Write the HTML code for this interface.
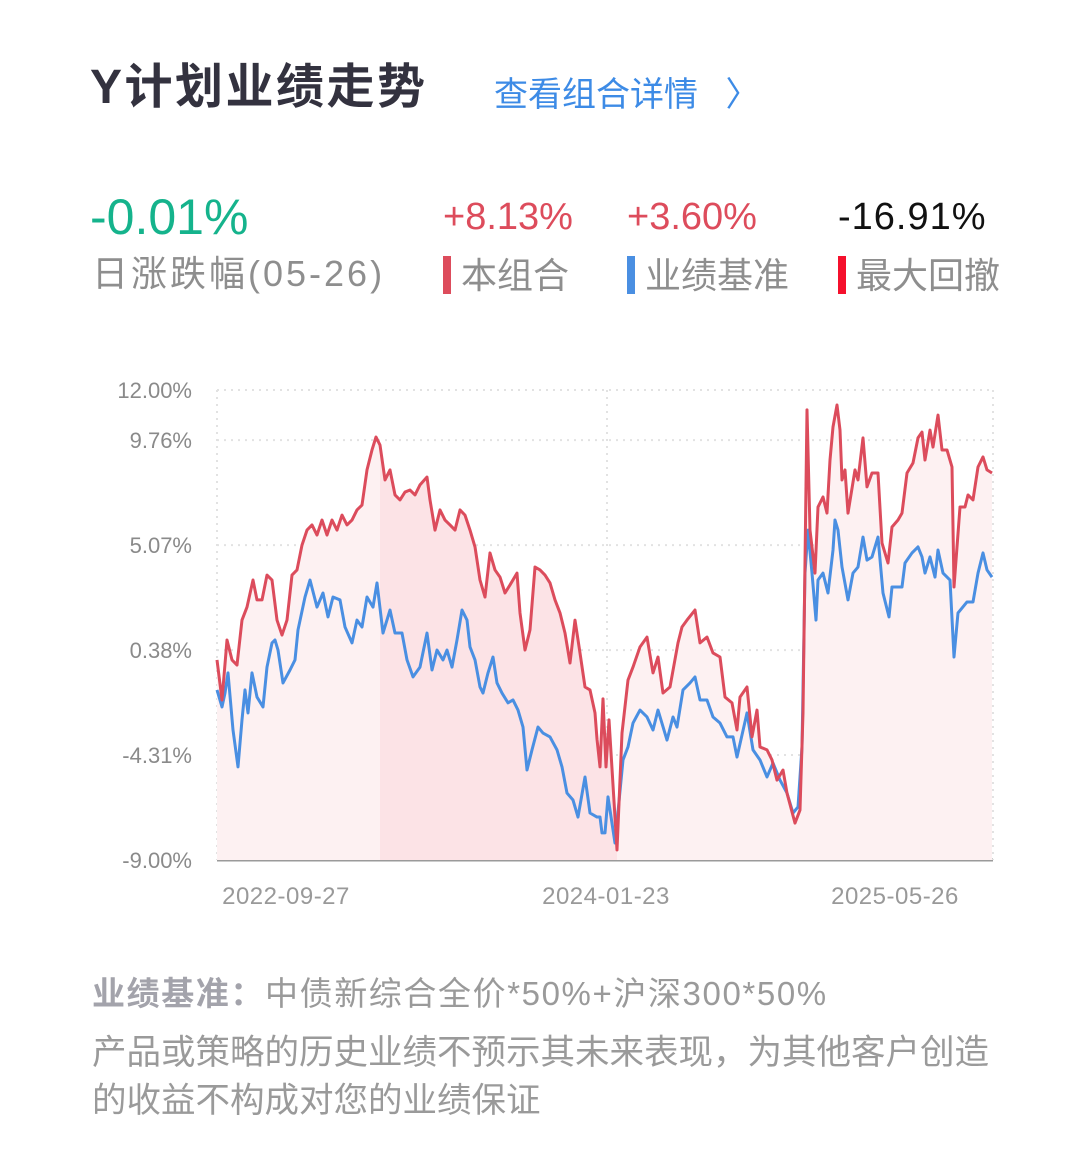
<!DOCTYPE html>
<html><head><meta charset="utf-8">
<style>
body{margin:0;width:1080px;height:1160px;background:#fff;position:relative;overflow:hidden;font-family:"Liberation Sans","Noto Sans CJK SC",sans-serif;}
.a{position:absolute;white-space:nowrap;line-height:1;}
</style></head><body>
<div class="a" style="left:90px;top:64px;font-size:48px;letter-spacing:2.5px;font-weight:bold;color:#33323f;">Y计划业绩走势</div>
<div class="a" style="left:494px;top:78px;font-size:34px;color:#3d8be6;">查看组合详情 <span style="font-size:34px;margin-left:18px;">〉</span></div>

<div class="a" style="left:90px;top:192px;font-size:50px;color:#15b38c;">-0.01%</div>
<div class="a" style="left:443px;top:198px;font-size:38px;color:#dd4c5c;">+8.13%</div>
<div class="a" style="left:627px;top:198px;font-size:38px;color:#dd4c5c;">+3.60%</div>
<div class="a" style="left:838px;top:198px;font-size:38px;letter-spacing:1px;color:#111;">-16.91%</div>

<div class="a" style="left:92px;top:256px;font-size:36px;letter-spacing:3px;color:#8e8e8e;">日涨跌幅(05-26)</div>
<div class="a" style="left:443px;top:256px;font-size:36px;color:#8e8e8e;"><span style="display:inline-block;width:8px;height:38px;background:#dd4c5c;vertical-align:-6px;margin-right:10px;"></span>本组合</div>
<div class="a" style="left:627px;top:256px;font-size:36px;color:#8e8e8e;"><span style="display:inline-block;width:8px;height:38px;background:#4a8fe2;vertical-align:-6px;margin-right:10px;"></span>业绩基准</div>
<div class="a" style="left:838px;top:256px;font-size:36px;color:#8e8e8e;"><span style="display:inline-block;width:8px;height:38px;background:#f5102c;vertical-align:-6px;margin-right:10px;"></span>最大回撤</div>

<svg id="chart" width="1080" height="940" style="position:absolute;left:0;top:0;" xmlns="http://www.w3.org/2000/svg"></svg>

<div class="a" style="left:92px;top:977px;font-size:33px;letter-spacing:1.6px;color:#9a9a9a;"><b style="color:#a3a3ab;">业绩基准：</b>中债新综合全价*50%+沪深300*50%</div>
<div class="a" style="left:92px;top:1036px;font-size:34.5px;color:#9a9a9a;">产品或策略的历史业绩不预示其未来表现，为其他客户创造</div>
<div class="a" style="left:92px;top:1084px;font-size:34.5px;color:#9a9a9a;">的收益不构成对您的业绩保证</div>

<script>
const yTicks=[12.00,9.76,5.07,0.38,-4.31,-9.00];
const yTickLabels=["12.00%","9.76%","5.07%","0.38%","-4.31%","-9.00%"];
const xTickDays=[69,389,678];
const xTickLabels=["2022-09-27","2024-01-23","2025-05-26"];
const drawdownStart=160, drawdownEnd=400;
const redDays=[0,5,10,15,20,25,30,36,40,45,50,55,60,65,70,75,80,85,90,95,100,105,110,115,120,125,130,135,140,145,150,155,159,163,168,173,178,183,188,193,198,203,210,213,218,223,228,233,238,243,248,253,258,263,268,273,278,283,288,293,300,303,308,313,318,323,328,333,338,343,348,353,358,363,368,373,378,380,383,386,389,392,400,405,411,416,423,430,436,441,446,453,461,465,470,478,483,490,496,503,508,515,520,523,530,535,540,543,550,555,560,566,570,578,583,586,590,593,598,601,606,610,613,616,620,623,625,628,631,638,641,646,650,655,661,665,671,675,681,685,690,696,701,705,708,713,716,721,725,730,735,737,743,748,751,756,761,766,770,775];
const redVals=[-0.06,-1.85,0.83,-0.06,-0.29,1.72,2.30,3.51,2.62,2.62,3.73,3.51,1.72,1.05,1.72,3.73,3.96,5.07,5.74,5.97,5.52,6.19,5.52,6.19,5.74,6.41,5.97,6.19,6.64,6.86,8.43,9.32,9.90,9.54,7.98,8.43,7.31,7.09,7.44,7.53,7.31,7.76,8.11,7.09,5.74,6.64,6.19,5.97,5.74,6.64,6.41,5.74,4.99,3.51,2.75,4.72,3.96,3.64,2.93,3.29,3.82,2.04,0.38,1.28,4.09,3.96,3.73,3.38,2.62,2.04,1.14,-0.20,1.72,0.25,-1.27,-1.40,-2.43,-3.6,-4.84,-1.8,-4.84,-2.74,-8.55,-3.33,-0.96,-0.38,0.52,0.96,-0.64,0.07,-1.54,-1.27,0.70,1.41,1.72,2.17,0.70,0.96,0.25,0.07,-1.72,-1.98,-3.19,-1.72,-1.27,-3.50,-2.30,-3.95,-4.08,-4.53,-5.43,-4.98,-6.01,-7.35,-6.77,-2.43,11.11,5.74,3.82,6.77,7.22,6.50,8.87,10.35,11.33,10.21,7.98,8.43,6.50,8.43,7.98,9.86,7.67,8.29,8.29,5.16,4.27,5.88,6.19,6.50,8.29,8.74,9.86,10.12,8.87,10.21,9.45,10.88,9.32,9.32,8.56,3.20,6.77,6.77,7.31,7.09,8.56,9.01,8.43,8.29];
const blueDays=[0,5,8,11,16,21,25,28,31,35,40,46,50,55,58,61,66,73,78,81,88,93,100,106,111,116,123,128,135,140,145,150,156,160,166,173,178,185,190,196,203,210,215,220,226,230,235,240,245,250,253,258,263,266,271,276,280,285,291,296,301,306,310,315,321,326,333,340,345,350,356,361,368,373,380,383,385,388,391,398,406,411,416,423,430,436,441,450,456,460,466,473,478,483,490,496,503,510,516,520,530,536,543,550,556,563,570,576,581,585,588,591,595,599,601,606,611,616,618,621,625,631,636,641,646,650,655,661,666,672,675,680,685,688,695,701,705,708,713,718,721,726,733,737,741,750,756,761,766,770,775];
const blueVals=[-1.40,-2.16,-1.54,-0.64,-3.19,-4.84,-2.74,-1.40,-2.43,-0.64,-1.72,-2.16,-0.38,0.70,0.83,0.38,-1.09,-0.51,-0.06,1.28,2.75,3.51,2.30,2.93,1.86,2.75,2.62,1.41,0.70,1.72,1.41,2.75,2.30,3.38,1.14,2.17,1.14,1.14,-0.06,-0.82,-0.38,1.14,-0.51,0.38,-0.06,0.38,-0.38,0.83,2.17,1.72,0.52,-0.06,-1.27,-1.54,-0.64,0.07,-1.09,-1.54,-1.98,-1.85,-2.30,-3.06,-4.98,-4.08,-3.06,-3.33,-3.50,-4.08,-4.84,-6.01,-6.32,-7.08,-5.29,-6.90,-7.08,-7.08,-7.79,-7.79,-6.18,-8.24,-4.53,-3.95,-2.88,-2.30,-2.61,-3.19,-2.30,-3.64,-2.61,-3.06,-1.40,-1.09,-0.82,-1.85,-1.85,-2.61,-2.88,-3.50,-3.50,-4.40,-2.43,-4.08,-4.53,-5.29,-4.67,-5.43,-6.01,-6.90,-6.63,-3.95,3.82,5.74,3.82,1.72,3.51,3.82,2.93,4.85,6.19,5.74,4.09,2.62,3.82,4.09,5.43,4.40,4.54,5.43,2.93,1.86,3.20,3.20,3.20,4.27,4.72,4.99,4.54,3.82,4.54,3.64,4.85,3.82,3.51,0.07,2.04,2.53,2.53,3.82,4.72,3.96,3.64];

const NS='http://www.w3.org/2000/svg';
const svg=document.getElementById('chart');
const X0=217,X1=993,Y0=390,Y1=860,DMAX=776,VMAX=12,VMIN=-9;
function xs(d){return X0+(d/DMAX)*(X1-X0);}
function ys(v){return Y0+(VMAX-v)/(VMAX-VMIN)*(Y1-Y0);}
function mk(tag,attrs){const e=document.createElementNS(NS,tag);for(const k in attrs)e.setAttribute(k,attrs[k]);svg.appendChild(e);return e;}

yTicks.forEach((t,i)=>{
  const g=mk('line',{x1:X0,x2:X1,y1:ys(t),y2:ys(t),stroke:i===yTicks.length-1?'#9a9a9a':'#e2e2e2','stroke-width':i===yTicks.length-1?3:2,'stroke-dasharray':i===yTicks.length-1?'':'2 5'});
  
  
  const tx=mk('text',{x:192,y:ys(t)+8,'text-anchor':'end','font-size':22,fill:'#8a8a8a','font-family':'Liberation Sans, sans-serif'});
  tx.textContent=yTickLabels[i];
  
  
});
[0,390,776].forEach(d=>{
  const v=mk('line',{x1:xs(d),x2:xs(d),y1:Y0,y2:Y1,stroke:'#e2e2e2','stroke-width':2,'stroke-dasharray':'2 5'});
  
  
});
xTickDays.forEach((d,i)=>{
  const tx=mk('text',{x:xs(d),y:904,'text-anchor':'middle','font-size':24,fill:'#999','font-family':'Liberation Sans, sans-serif','letter-spacing':'0.5'});
  tx.textContent=xTickLabels[i];
  
  
});

function areaPath(days,vals,from,to){
  let pts=[];
  for(let i=0;i<days.length;i++){if(days[i]>=from&&days[i]<=to)pts.push([xs(days[i]),ys(vals[i])]);}
  if(!pts.length)return '';
  let p='M'+pts[0][0]+','+Y1;
  pts.forEach(q=>p+=' L'+q[0]+','+q[1]);
  p+=' L'+pts[pts.length-1][0]+','+Y1+' Z';
  return p;
}
const area=mk('path',{d:areaPath(redDays,redVals,0,DMAX),fill:'#fdf1f2'});


const dd=mk('path',{d:areaPath(redDays,redVals,drawdownStart,drawdownEnd),fill:'#fce3e6'});



function linePath(days,vals){return days.map((d,i)=>(i?'L':'M')+xs(d)+','+ys(vals[i])).join(' ');}
const bl=mk('path',{d:linePath(blueDays,blueVals),fill:'none',stroke:'#4a8fe2','stroke-width':3,'stroke-linejoin':'round'});


const rl=mk('path',{d:linePath(redDays,redVals),fill:'none',stroke:'#dc4c5c','stroke-width':3,'stroke-linejoin':'round'});


</script>
</body></html>
